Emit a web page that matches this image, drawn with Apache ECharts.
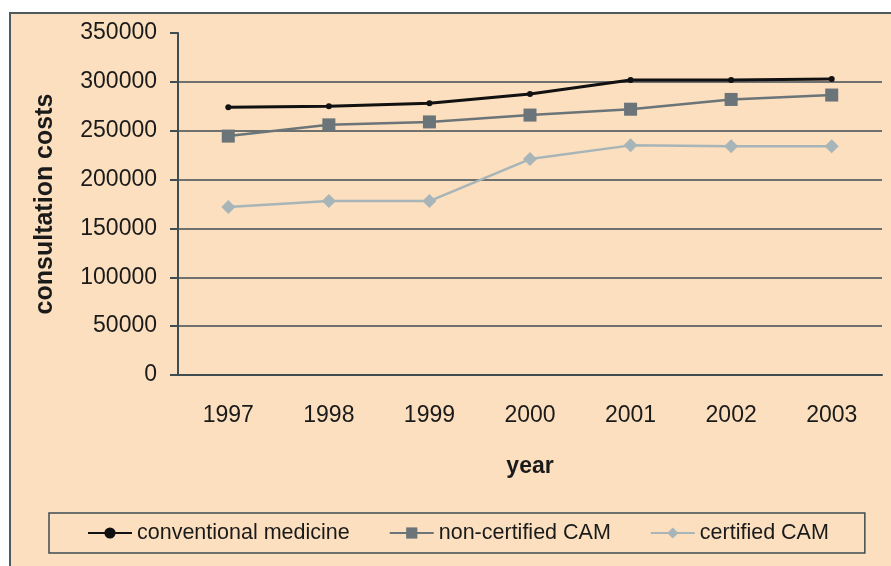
<!DOCTYPE html>
<html>
<head>
<meta charset="utf-8">
<script src="https://cdn.jsdelivr.net/npm/echarts@6/dist/echarts.min.js"></script>
<style>
  html, body { margin: 0; padding: 0; background: #fff; }
  #frame {
    position: absolute; left: 9px; top: 12px; width: 900px; height: 600px;
    background: #fbdfbe; border-left: 2px solid #4d5b61; border-top: 2px solid #4d5b61;
  }
  #main { position: absolute; left: 0; top: 0; width: 891px; height: 566px; }
</style>
</head>
<body>
<div id="frame"></div>
<div id="main"></div>
<script>
// 数据
var years = ['1997', '1998', '1999', '2000', '2001', '2002', '2003'];
var conventional = [274000, 275000, 278000, 287500, 302000, 302000, 303000];
var nonCertified = [244500, 256000, 259000, 266000, 272000, 282000, 286500];
var certified = [172000, 178000, 178000, 221000, 235000, 234000, 234000];

var dom = document.getElementById('main');
var myChart = echarts.init(dom);

var font = 'Liberation Sans, Arial, sans-serif';
var axisColor = '#3f4c52';
var textColor = '#1a1a1a';

option = {
    backgroundColor: 'transparent',
    animation: false,
    grid: { left: 178, right: 9, top: 33, bottom: 191 },
    legend: {
        left: 49,
        top: 513,
        orient: 'horizontal',
        borderColor: '#3f4c52',
        borderWidth: 1.5,
        padding: [9, 36, 9, 38],
        itemGap: 39,
        itemWidth: 44,
        itemHeight: 14,
        textStyle: { fontFamily: font, fontSize: 21.5, color: textColor },
        data: ['conventional medicine', 'non-certified CAM', 'certified CAM']
    },
    xAxis: {
        type: 'category',
        data: years,
        name: 'year',
        nameLocation: 'middle',
        nameGap: 80,
        nameTextStyle: { fontFamily: font, fontSize: 23, fontWeight: 'bold', color: textColor },
        axisLine: { lineStyle: { color: axisColor, width: 2 } },
        axisTick: { length: 8, lineStyle: { color: axisColor, width: 2 } },
        axisLabel: { fontFamily: font, fontSize: 23, color: textColor, margin: 29 }
    },
    yAxis: {
        type: 'value',
        min: 0,
        max: 350000,
        interval: 50000,
        name: 'consultation costs',
        nameLocation: 'middle',
        nameGap: 120,
        nameTextStyle: { fontFamily: font, fontSize: 25, fontWeight: 'bold', color: textColor },
        axisLine: { show: true, lineStyle: { color: axisColor, width: 2 } },
        axisTick: { show: true, length: 8, lineStyle: { color: axisColor, width: 2 } },
        axisLabel: {
            fontFamily: font, fontSize: 23, color: textColor, margin: 21,
            formatter: function (v) { return String(v); }
        },
        splitLine: { show: true, showMaxLine: false, lineStyle: { color: axisColor, width: 1.5 } }
    },
    series: [
        {
            name: 'conventional medicine',
            type: 'line',
            data: conventional,
            symbol: 'circle',
            symbolSize: 6,
            lineStyle: { color: '#111111', width: 3 },
            itemStyle: { color: '#111111' }
        },
        {
            name: 'non-certified CAM',
            type: 'line',
            data: nonCertified,
            symbol: 'rect',
            symbolSize: 13,
            lineStyle: { color: '#6b7478', width: 2.5 },
            itemStyle: { color: '#6b7478' }
        },
        {
            name: 'certified CAM',
            type: 'line',
            data: certified,
            symbol: 'diamond',
            symbolSize: 14,
            lineStyle: { color: '#a8b5b8', width: 2.5 },
            itemStyle: { color: '#a8b5b8' }
        }
    ]
};
myChart.setOption(option);
</script>
</body>
</html>
